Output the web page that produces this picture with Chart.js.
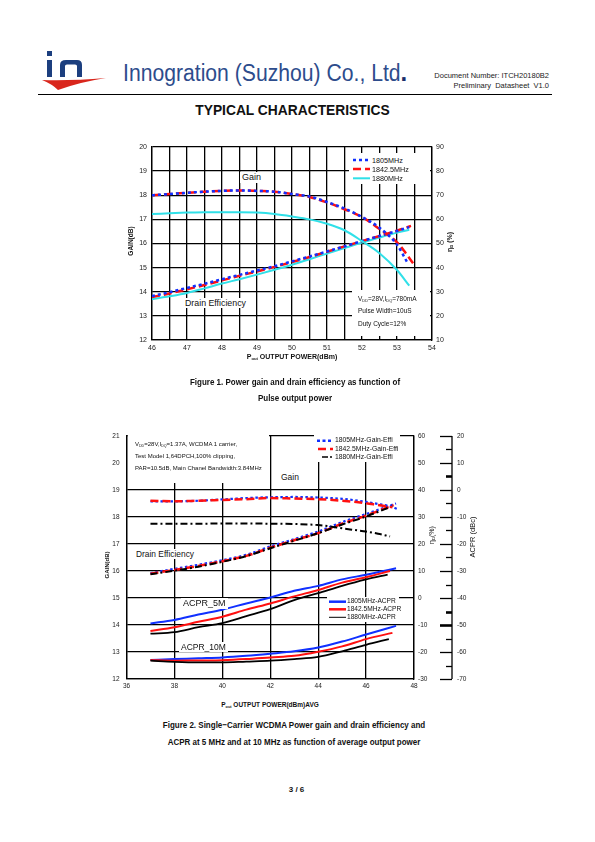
<!DOCTYPE html>
<html lang="en">
<head>
<meta charset="utf-8">
<title>Typical Characteristics</title>
<script src="https://cdn.jsdelivr.net/npm/chart.js"></script>
<style>
	body { margin: 0; width: 595px; height: 842px; position: relative; background: #fff; font-family: "Liberation Sans", Arial, sans-serif; color: #111; overflow: hidden; }
	.t { position: absolute; white-space: nowrap; line-height: 1; }
	.box { position: absolute; background: #fff; }
	.rot { position: absolute; white-space: nowrap; line-height: 1; transform: translate(-50%, -50%) rotate(-90deg); }
	.narrow { transform: scaleX(0.87); transform-origin: 50% 50%; }
	sub { font-size: 60%; vertical-align: -0.35em; line-height: 0; }
	canvas { position: absolute; }
</style>
</head>
<body>

<!-- header -->
<svg style="position:absolute;left:40px;top:47px" width="70" height="46">
	<rect x="7" y="4" width="5" height="5" fill="#1c3f7f"/>
	<rect x="7" y="13" width="5" height="17" fill="#1c3f7f"/>
	<path d="M20 30 V18 Q20 13 26 13 H37 Q42 13 42 18 V30 H37 V19 Q37 17.5 35 17.5 H27 Q25 17.5 25 19 V30 Z" fill="#1c3f7f"/>
	<path d="M2 33 Q30 34 66 31 Q40 35 18 43 Q12 37 2 33 Z" fill="#d9261c"/>
</svg>
<div class="t" style="left:123px;top:59px;font-size:23px;color:#2d4c8c;transform:scaleX(0.92);transform-origin:0 50%">Innogration (Suzhou) Co., Ltd<b style="font-size:26px;color:#1a2f6a">.</b></div>
<div class="t" style="right:46px;top:72px;font-size:7.5px;color:#222">Document Number: ITCH20180B2</div>
<div class="t" style="right:46px;top:82px;font-size:7.5px;color:#222">Preliminary&nbsp; Datasheet&nbsp; V1.0</div>
<div style="position:absolute;left:38px;top:94px;width:514px;height:1px;background:#000"></div>
<div class="t" style="left:0;width:585px;text-align:center;top:102px;font-size:15px;font-weight:bold;transform:scaleX(0.92)">TYPICAL CHARACTERISTICS</div>

<!-- figure 1 -->
<canvas id="fig1" width="380" height="240" style="left:100px;top:130px;width:380px;height:240px"></canvas>
<div class="rot" style="left:131px;top:241px;font-size:6.5px;font-weight:bold">GAIN(dB)</div>
<div class="rot" style="left:449px;top:242px;font-size:7px;font-weight:bold">&eta;<sub>D</sub> (%)</div>
<div class="t" style="left:0;width:584px;text-align:center;top:353px;font-size:7px;font-weight:bold">P<sub>out</sub> OUTPUT POWER(dBm)</div>

<div class="box" style="left:349px;top:153px;width:81px;height:31px"></div>
<svg style="position:absolute;left:350px;top:153px" width="25" height="31">
	<line x1="3" y1="7" x2="20" y2="7" stroke="#1030ff" stroke-width="2.5" stroke-dasharray="3 3"/>
	<line x1="3" y1="16" x2="20" y2="16" stroke="#ff1010" stroke-width="2.5" stroke-dasharray="8 4"/>
	<line x1="3" y1="25.3" x2="20" y2="25.3" stroke="#30e0e8" stroke-width="2"/>
</svg>
<div class="t" style="left:372px;top:156.5px;font-size:7.2px">1805MHz</div>
<div class="t" style="left:372px;top:165.5px;font-size:7.2px">1842.5MHz</div>
<div class="t" style="left:372px;top:174.8px;font-size:7.2px">1880MHz</div>

<div class="box" style="left:352px;top:290px;width:78px;height:46px"></div>
<div class="t" style="left:358px;top:296px;font-size:6.5px">V<sub>DD</sub>=28V,I<sub>DQ</sub>=780mA</div>
<div class="t" style="left:358px;top:308.3px;font-size:6.5px">Pulse Width=10uS</div>
<div class="t" style="left:358px;top:320.8px;font-size:6.5px">Duty Cycle=12%</div>

<div class="t" style="left:240px;top:172px;font-size:9px;background:#fff;padding:1px 2px">Gain</div>
<div class="t" style="left:183px;top:297.5px;font-size:8.8px;background:#fff;padding:1px 2px">Drain Efficiency</div>

<div class="t narrow" style="left:0;width:590px;text-align:center;top:377.5px;font-size:9.2px;font-weight:bold">Figure 1. Power gain and drain efficiency as function of</div>
<div class="t narrow" style="left:0;width:590px;text-align:center;top:393.5px;font-size:9.2px;font-weight:bold">Pulse output power</div>

<!-- figure 2 -->
<canvas id="fig2" width="410" height="285" style="left:90px;top:415px;width:410px;height:285px"></canvas>
<div class="rot" style="left:107px;top:565px;font-size:6px;font-weight:bold">GAIN(dB)</div>
<div class="rot" style="left:431px;top:535px;font-size:7px">&eta;<sub>D</sub>(%)</div>
<div class="rot" style="left:473px;top:537px;font-size:7.5px">ACPR (dBc)</div>
<div class="t" style="left:0;width:540px;text-align:center;top:701.5px;font-size:6.5px;font-weight:bold">P<sub>out</sub> OUTPUT POWER(dBm)AVG</div>

<div class="box" style="left:128px;top:430px;width:141px;height:53px"></div>
<div class="t" style="left:135px;top:441px;font-size:6px">V<sub>DD</sub>=28V,I<sub>DQ</sub>=1.37A, WCDMA 1 carrier,</div>
<div class="t" style="left:135px;top:453px;font-size:6px">Test Model 1,64DPCH,100% clipping,</div>
<div class="t" style="left:135px;top:465px;font-size:6px">PAR=10.5dB, Main Chanel Bandwidth:3.84MHz</div>

<div class="box" style="left:314px;top:435px;width:86px;height:27px"></div>
<svg style="position:absolute;left:314px;top:435px" width="22" height="27">
	<line x1="3" y1="5.7" x2="19" y2="5.7" stroke="#1030ff" stroke-width="2.5" stroke-dasharray="3 2.5"/>
	<line x1="4" y1="14" x2="19" y2="14" stroke="#ff1010" stroke-width="2.5" stroke-dasharray="8 4"/>
	<line x1="8" y1="22" x2="19" y2="22" stroke="#000" stroke-width="1.5" stroke-dasharray="6 2 2 2"/>
</svg>
<div class="t" style="left:335px;top:437.3px;font-size:6.8px">1805MHz-Gain-Effi</div>
<div class="t" style="left:335px;top:445.7px;font-size:6.8px">1842.5MHz-Gain-Effi</div>
<div class="t" style="left:335px;top:453.7px;font-size:6.8px">1880MHz-Gain-Effi</div>

<div class="box" style="left:327px;top:597px;width:72px;height:25px"></div>
<svg style="position:absolute;left:327px;top:597px" width="22" height="25">
	<line x1="2" y1="4.7" x2="19" y2="4.7" stroke="#1030ff" stroke-width="2.5"/>
	<line x1="2" y1="12.3" x2="19" y2="12.3" stroke="#ff1010" stroke-width="2.5"/>
	<line x1="2" y1="20.3" x2="19" y2="20.3" stroke="#000" stroke-width="1"/>
</svg>
<div class="t" style="left:347px;top:598.4px;font-size:6.6px">1805MHz-ACPR</div>
<div class="t" style="left:347px;top:606px;font-size:6.6px">1842.5MHz-ACPR</div>
<div class="t" style="left:347px;top:614px;font-size:6.6px">1880MHz-ACPR</div>

<div class="t" style="left:279px;top:472px;font-size:8.5px;background:#fff;padding:1px 2px">Gain</div>
<div class="t" style="left:134px;top:548.5px;font-size:8.4px;background:#fff;padding:1px 2px">Drain Efficiency</div>
<div class="t" style="left:181px;top:598px;font-size:9px;background:#fff;padding:1px 2px">ACPR_5M</div>
<div class="t" style="left:179px;top:641.5px;font-size:8.5px;background:#fff;padding:1px 2px">ACPR_10M</div>

<div class="t narrow" style="left:0;width:588px;text-align:center;top:720.5px;font-size:9.2px;font-weight:bold">Figure 2. Single&minus;Carrier WCDMA Power gain and drain efficiency and</div>
<div class="t narrow" style="left:0;width:588px;text-align:center;top:737.5px;font-size:9.2px;font-weight:bold">ACPR at 5 MHz and at 10 MHz as function of average output power</div>

<div class="t" style="left:0;width:593px;text-align:center;top:786px;font-size:8px;font-weight:bold">3 / 6</div>

<script>
// ---- Figure 1: pulse gain (dB) and drain efficiency (%) vs Pout (dBm) ----
const f1GainX1805 = [46, 46.5, 47, 47.5, 48, 48.5, 49, 49.5, 50, 50.5, 51, 51.5, 52, 52.5, 53, 53.3];
const f1Gain1805 = [18.0, 18.05, 18.1, 18.15, 18.18, 18.2, 18.18, 18.15, 18.05, 17.95, 17.72, 17.45, 17.1, 16.65, 15.95, 15.2];
const f1GainX1842 = [46, 46.5, 47, 47.5, 48, 48.5, 49, 49.5, 50, 50.5, 51, 51.5, 52, 52.5, 53, 53.25, 53.5];
const f1Gain1842 = [18.0, 18.05, 18.1, 18.15, 18.18, 18.2, 18.18, 18.15, 18.05, 17.93, 17.7, 17.42, 17.1, 16.6, 16.05, 15.6, 15.1];
const f1GainX1880 = [46, 46.5, 47, 47.5, 48, 48.5, 49, 49.5, 50, 50.5, 51, 51.5, 52, 52.5, 53, 53.35];
const f1Gain1880 = [17.22, 17.25, 17.28, 17.3, 17.3, 17.3, 17.28, 17.22, 17.12, 17.0, 16.82, 16.55, 16.1, 15.6, 14.9, 14.25];

const f1EffX1805 = [46, 46.5, 47, 47.5, 48, 48.5, 49, 49.5, 50, 50.5, 51, 51.5, 52, 52.5, 53, 53.35];
const f1Eff1805 = [28.2, 29.8, 31.6, 33.3, 35.2, 37.0, 38.8, 40.6, 42.6, 44.6, 46.7, 48.8, 51.0, 53.1, 55.2, 56.8];
const f1EffX1842 = [46, 46.5, 47, 47.5, 48, 48.5, 49, 49.5, 50, 50.5, 51, 51.5, 52, 52.5, 53, 53.4];
const f1Eff1842 = [27.8, 29.3, 31.0, 32.8, 34.7, 36.6, 38.4, 40.3, 42.3, 44.4, 46.6, 48.8, 51.0, 53.1, 55.3, 57.3];
const f1EffX1880 = [46, 46.5, 47, 47.5, 48, 48.5, 49, 49.5, 50, 50.5, 51, 51.5, 52, 52.5, 53, 53.35];
const f1Eff1880 = [26.9, 28.1, 29.5, 31.4, 33.4, 35.2, 37.1, 39.1, 41.2, 43.5, 45.8, 48.1, 50.4, 52.5, 54.5, 55.7];

// ---- Figure 2: WCDMA gain (dB), efficiency (%), ACPR (dBc) vs average Pout (dBm) ----
const f2GainX1805 = [37, 38, 39, 40, 41, 42, 43, 44, 45, 46, 46.5, 47, 47.3];
const f2Gain1805 = [18.58, 18.58, 18.6, 18.65, 18.7, 18.73, 18.74, 18.72, 18.67, 18.56, 18.48, 18.4, 18.3];
const f2GainX1842 = [37, 38, 39, 40, 41, 42, 43, 44, 45, 46, 46.5, 47.1];
const f2Gain1842 = [18.6, 18.58, 18.6, 18.63, 18.66, 18.7, 18.68, 18.66, 18.6, 18.51, 18.44, 18.36];
const f2GainX1880 = [37, 38, 39, 40, 41, 42, 43, 44, 44.5, 45, 45.5, 46, 46.5, 47];
const f2Gain1880 = [17.75, 17.75, 17.75, 17.76, 17.76, 17.75, 17.74, 17.7, 17.65, 17.58, 17.52, 17.46, 17.38, 17.28];

const f2EffX1805 = [37, 38, 39, 40, 41, 42, 43, 44, 45, 46, 47.25];
const f2Eff1805 = [9.2, 10.8, 12.3, 14.0, 16.0, 19.1, 21.8, 24.6, 28.1, 31.1, 35.0];
const f2EffX1842 = [37, 38, 39, 40, 41, 42, 43, 44, 45, 46, 47.15];
const f2Eff1842 = [9.0, 10.4, 11.9, 13.6, 15.6, 18.6, 21.4, 24.0, 27.5, 30.5, 34.4];
const f2EffX1880 = [37, 38, 39, 40, 41, 42, 43, 44, 45, 46, 47.1];
const f2Eff1880 = [8.8, 10.1, 11.6, 13.4, 15.5, 18.4, 21.2, 24.0, 27.2, 30.2, 34.0];

const f2Acpr5X1805 = [37, 38, 39, 40, 41, 42, 43, 44, 45, 46, 47.25];
const f2Acpr5_1805 = [-49.4, -48.1, -46.1, -44.3, -42.0, -39.8, -37.3, -35.5, -33.1, -31.4, -29.0];
const f2Acpr5X1842 = [37, 38, 39, 40, 41, 42, 43, 44, 45, 46, 47.0];
const f2Acpr5_1842 = [-52.2, -50.8, -48.8, -46.9, -44.3, -42.0, -39.4, -37.0, -34.3, -32.3, -30.0];
const f2Acpr5X1880 = [37, 38, 39, 40, 41, 42, 43, 44, 45, 46, 46.9];
const f2Acpr5_1880 = [-53.2, -52.6, -50.8, -49.3, -46.7, -44.1, -40.8, -38.2, -35.5, -33.1, -31.3];
const f2Acpr10X1805 = [37, 38, 39, 40, 41, 42, 43, 44, 45, 46, 47.25];
const f2Acpr10_1805 = [-62.9, -62.6, -62.3, -62.0, -61.4, -60.6, -59.7, -58.3, -56.1, -53.5, -50.3];
const f2Acpr10X1842 = [37, 38, 39, 40, 41, 42, 43, 44, 45, 46, 47.1];
const f2Acpr10_1842 = [-62.9, -63.2, -63.1, -63.0, -62.6, -62.0, -61.4, -59.9, -57.9, -55.2, -52.9];
const f2Acpr10X1880 = [37, 38, 39, 40, 41, 42, 43, 44, 45, 46, 46.95];
const f2Acpr10_1880 = [-63.2, -63.6, -63.8, -63.8, -63.5, -63.2, -62.6, -61.8, -59.7, -57.3, -55.2];

// axis ranges / tick steps
const f1X = [46, 54, 0.5], f1Gain = [12, 20, 1], f1Eff = [10, 90, 10];
const f2X = [36, 48, 2], f2Gain = [12, 21, 1], f2Eff = [-30, 60, 10], f2Acpr = [-70, 20, 10];

const BLUE = "#1030ff", RED = "#ff1010", CYAN = "#30e0e8", BLACK = "#000";

function pts(xs, ys) {
	return xs.map((x, i) => ({ x: x, y: ys[i] }));
}

function line(xs, ys, axis, color, width, dash) {
	return {
		data: pts(xs, ys),
		yAxisID: axis,
		borderColor: color,
		borderWidth: width,
		borderDash: dash || [],
		pointRadius: 0,
		fill: false,
		cubicInterpolationMode: "monotone"
	};
}

Chart.defaults.font.family = '"Liberation Sans", Arial, sans-serif';
Chart.defaults.color = "#222";

const gridOpts = { color: BLACK, lineWidth: 1.3, drawTicks: false };
const borderOpts = { color: BLACK, width: 1.3 };

function fixed(size, isWidth) {
	return function (s) {
		if (isWidth) s.width = size; else s.height = size;
	};
}

// Figure 1
new Chart(document.getElementById("fig1"), {
	type: "line",
	data: {
		datasets: [
			line(f1GainX1805, f1Gain1805, "y", BLUE, 2.5, [3, 3]),
			line(f1GainX1842, f1Gain1842, "y", RED, 2.5, [8, 4]),
			line(f1GainX1880, f1Gain1880, "y", CYAN, 2),
			line(f1EffX1805, f1Eff1805, "y1", BLUE, 2.5, [3, 3]),
			line(f1EffX1842, f1Eff1842, "y1", RED, 2.5, [8, 4]),
			line(f1EffX1880, f1Eff1880, "y1", CYAN, 2)
		]
	},
	options: {
		responsive: false,
		animation: false,
		layout: { padding: { top: 17, left: 0, right: 0, bottom: 0 } },
		plugins: { legend: { display: false }, tooltip: { enabled: false } },
		scales: {
			x: {
				type: "linear", min: f1X[0], max: f1X[1],
				ticks: { stepSize: f1X[2], autoSkip: false, maxRotation: 0, padding: 4, font: { size: 7 },
					callback: v => (v % 1 === 0 ? v : "") },
				grid: gridOpts, border: borderOpts,
				afterFit: fixed(30, false)
			},
			y: {
				position: "left", min: f1Gain[0], max: f1Gain[1],
				ticks: { stepSize: f1Gain[2], padding: 5, font: { size: 7 } },
				grid: gridOpts, border: borderOpts,
				afterFit: fixed(52, true)
			},
			y1: {
				position: "right", min: f1Eff[0], max: f1Eff[1],
				ticks: { stepSize: f1Eff[2], padding: 4, font: { size: 7 } },
				grid: { drawOnChartArea: false, drawTicks: false }, border: borderOpts,
				afterFit: fixed(48, true)
			}
		}
	}
});

// ACPR axis: line with ticks pointing into the chart, labels on the outside
const acprAxisLine = {
	id: "acprAxisLine",
	afterDraw(chart) {
		const s = chart.scales.acpr;
		if (!s) return;
		const c = chart.ctx;
		const x = s.left + 12;
		c.save();
		c.strokeStyle = BLACK;
		c.lineWidth = 1.3;
		c.beginPath();
		c.moveTo(x, s.getPixelForValue(s.max));
		c.lineTo(x, s.getPixelForValue(s.min));
		c.stroke();
		for (let v = s.min; v <= s.max; v += 5) {
			const y = Math.round(s.getPixelForValue(v)) + 0.5;
			const major = v % 10 === 0;
			c.lineWidth = (v === 5 || v === -45 || v === -50) ? 2.6 : 1.3;
			c.beginPath();
			c.moveTo(x - (major ? 12 : 6), y);
			c.lineTo(x, y);
			c.stroke();
		}
		c.restore();
	}
};

// Figure 2
new Chart(document.getElementById("fig2"), {
	type: "line",
	data: {
		datasets: [
			line(f2Acpr5X1880, f2Acpr5_1880, "acpr", BLACK, 1.8),
			line(f2Acpr5X1842, f2Acpr5_1842, "acpr", RED, 2),
			line(f2Acpr5X1805, f2Acpr5_1805, "acpr", BLUE, 2),
			line(f2Acpr10X1880, f2Acpr10_1880, "acpr", BLACK, 1.8),
			line(f2Acpr10X1842, f2Acpr10_1842, "acpr", RED, 2),
			line(f2Acpr10X1805, f2Acpr10_1805, "acpr", BLUE, 2),
			line(f2GainX1880, f2Gain1880, "y", BLACK, 2, [7, 3, 2, 3]),
			line(f2GainX1842, f2Gain1842, "y", RED, 2.5, [8, 4]),
			line(f2GainX1805, f2Gain1805, "y", BLUE, 2.2, [2.5, 2.5]),
			line(f2EffX1880, f2Eff1880, "y1", BLACK, 2, [7, 3, 2, 3]),
			line(f2EffX1842, f2Eff1842, "y1", RED, 2.5, [8, 4]),
			line(f2EffX1805, f2Eff1805, "y1", BLUE, 2.2, [2.5, 2.5])
		]
	},
	options: {
		responsive: false,
		animation: false,
		layout: { padding: { top: 13, left: 0, right: 0, bottom: 0 } },
		plugins: { legend: { display: false }, tooltip: { enabled: false } },
		scales: {
			x: {
				type: "linear", min: f2X[0], max: f2X[1],
				ticks: { stepSize: f2X[2], maxRotation: 0, padding: 3, font: { size: 6.5 } },
				grid: gridOpts, border: borderOpts,
				afterFit: fixed(17.5, false)
			},
			y: {
				position: "left", min: f2Gain[0], max: f2Gain[1],
				ticks: { stepSize: f2Gain[2], padding: 7, font: { size: 6.5 } },
				grid: { color: ctx => (ctx.tick && ctx.tick.value === 20 ? "rgba(0,0,0,0)" : BLACK), lineWidth: 1.3, drawTicks: false },
				border: borderOpts,
				afterFit: fixed(36.5, true)
			},
			y1: {
				position: "right", weight: 0, min: f2Eff[0], max: f2Eff[1],
				ticks: { stepSize: f2Eff[2], padding: 4, font: { size: 6.5 } },
				grid: { drawOnChartArea: false, drawTicks: false }, border: borderOpts,
				afterFit: fixed(26, true)
			},
			acpr: {
				position: "right", weight: 1, min: f2Acpr[0], max: f2Acpr[1],
				ticks: { stepSize: f2Acpr[2], padding: 17, font: { size: 6.5 } },
				grid: { display: false, drawTicks: false }, border: { display: false },
				afterFit: fixed(60, true)
			}
		}
	},
	plugins: [acprAxisLine]
});
</script>
</body>
</html>
